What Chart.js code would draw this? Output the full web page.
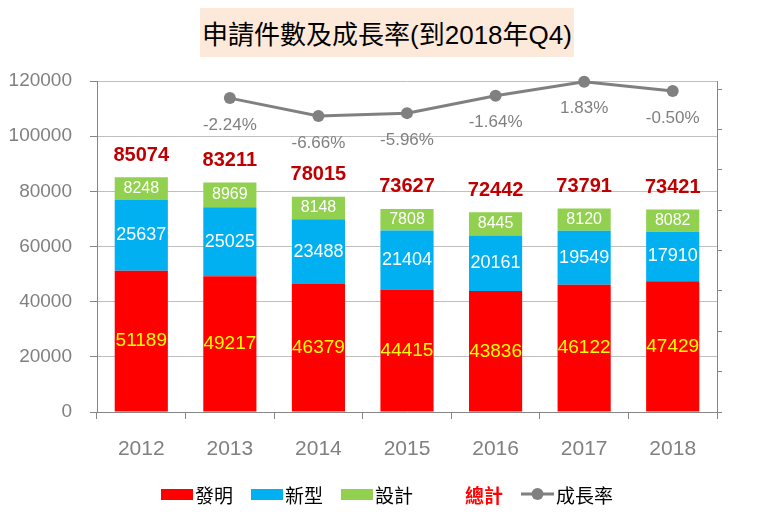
<!DOCTYPE html>
<html lang="zh-Hant">
<head>
<meta charset="UTF-8" />
<title>申請件數及成長率</title>
<script src="https://cdn.jsdelivr.net/npm/chart.js"></script>
<style>
  body { margin: 0; background: #fff; }
  .wrap { position: relative; width: 774px; height: 519px; }
  .titulo {
    position: absolute; left: 200px; top: 8px; width: 374px; height: 49px;
    background: #fde9d9; color: #000;
    font: 26px "Liberation Sans", "Noto Sans CJK TC", sans-serif;
    display: flex; align-items: center; justify-content: center;
  }
  .legenda {
    position: absolute; left: 161px; top: 479px; height: 30px;
    display: flex; align-items: center; gap: 18px;
    font: 19px "Liberation Sans", "Noto Sans CJK TC", sans-serif; color: #000;
  }
  .legenda span.item { display: flex; align-items: center; }
  .legenda .caixa { display: inline-block; width: 32px; height: 11px; margin-right: 2px; }
</style>
</head>
<body>
<div class="wrap">
  <canvas id="grafico"></canvas>
  <div class="titulo">申請件數及成長率(到2018年Q4)</div>
  <div class="legenda" id="legenda"></div>
</div>
<script>
  const anos = ['2012', '2013', '2014', '2015', '2016', '2017', '2018'];
  const invencao = [51189, 49217, 46379, 44415, 43836, 46122, 47429];
  const modelo = [25637, 25025, 23488, 21404, 20161, 19549, 17910];
  const desenho = [8248, 8969, 8148, 7808, 8445, 8120, 8082];
  const totais = [85074, 83211, 78015, 73627, 72442, 73791, 73421];
  const crescimento = [null, -2.24, -6.66, -5.96, -1.64, 1.83, -0.50];
  const ticksEsq = [0, 20000, 40000, 60000, 80000, 100000, 120000];

  const fonte = '"Liberation Sans", "Noto Sans CJK TC", sans-serif';
  const cinza = '#808080';

  // rótulos das barras, totais e percentuais
  const rotulos = {
    id: 'rotulos',
    afterDatasetsDraw(chart) {
      const ctx = chart.ctx;
      ctx.save();
      ctx.textAlign = 'center';
      ctx.textBaseline = 'middle';
      const cores = ['#ffff00', '#ffffff', '#ffffff'];
      const tamanhos = [19, 18, 16];
      for (let d = 0; d < 3; d++) {
        const meta = chart.getDatasetMeta(d);
        ctx.fillStyle = cores[d];
        ctx.font = tamanhos[d] + 'px ' + fonte;
        meta.data.forEach((bar, i) => {
          const v = chart.data.datasets[d].data[i];
          ctx.fillText(String(v), bar.x, (bar.y + bar.base) / 2);
        });
      }
      // totais
      const topo = chart.getDatasetMeta(2);
      ctx.fillStyle = '#c00000';
      ctx.font = 'bold 20px ' + fonte;
      topo.data.forEach((bar, i) => {
        ctx.fillText(String(totais[i]), bar.x, bar.y - 22);
      });
      // percentuais
      const linha = chart.getDatasetMeta(3);
      ctx.fillStyle = cinza;
      ctx.font = '17px ' + fonte;
      linha.data.forEach((pt, i) => {
        if (crescimento[i] === null) return;
        ctx.fillText(crescimento[i].toFixed(2) + '%', pt.x, pt.y + 27);
      });
      ctx.restore();
    }
  };

  const config = {
    type: 'bar',
    data: {
      labels: anos,
      datasets: [
        { label: '發明', data: invencao, backgroundColor: '#ff0000', stack: 's', order: 1, yAxisID: 'y' },
        { label: '新型', data: modelo, backgroundColor: '#00b0f0', stack: 's', order: 1, yAxisID: 'y' },
        { label: '設計', data: desenho, backgroundColor: '#92d050', stack: 's', order: 1, yAxisID: 'y' },
        {
          type: 'line', label: '成長率', data: crescimento, yAxisID: 'y2', order: 0,
          borderColor: cinza, backgroundColor: cinza, borderWidth: 3, clip: false,
          pointRadius: 6, pointHoverRadius: 6, pointBackgroundColor: cinza, pointBorderWidth: 0,
          spanGaps: false
        }
      ]
    },
    options: {
      responsive: true,
      maintainAspectRatio: false,
      animation: false,
      layout: { padding: { top: 81, right: 49, bottom: 0, left: 0 } },
      datasets: { bar: { categoryPercentage: 1, barPercentage: 0.6 } },
      plugins: { legend: { display: false }, title: { display: false }, tooltip: { enabled: false } },
      scales: {
        x: {
          stacked: true,
          grid: { offset: true, drawOnChartArea: false, tickLength: 7, color: '#868686' },
          border: { color: '#868686', width: 1 },
          ticks: { color: cinza, font: { family: fonte, size: 21 }, padding: 18 },
          afterFit(s) { s.height = 107; }
        },
        y: {
          stacked: true, min: 0, max: 120000,
          afterBuildTicks(s) { s.ticks = ticksEsq.map(v => ({ value: v })); },
          grid: { color: '#bfbfbf', tickColor: '#868686', tickLength: 7 },
          border: { color: '#868686', width: 1 },
          ticks: { color: cinza, font: { family: fonte, size: 19 }, padding: 18, callback: v => String(v) },
          afterFit(s) { s.width = 97; }
        },
        y2: {
          position: 'right', min: -80, max: 2,
          afterBuildTicks(s) {
            const t = [];
            for (let v = -80; v <= 0; v += 10) t.push({ value: v });
            s.ticks = t;
          },
          grid: { drawOnChartArea: false, color: '#868686', tickLength: 5 },
          border: { color: '#868686', width: 1 },
          ticks: { display: false },
          afterFit(s) { s.width = 8; }
        }
      }
    },
    plugins: [rotulos]
  };

  const grafico = new Chart(document.getElementById('grafico'), config);

  // legenda em HTML
  const legenda = document.getElementById('legenda');
  const itens = [
    { nome: grafico.data.datasets[0].label, cor: '#ff0000' },
    { nome: grafico.data.datasets[1].label, cor: '#00b0f0' },
    { nome: grafico.data.datasets[2].label, cor: '#92d050' },
    { nome: '總計', cor: 'transparent', texto: '#ff0000', negrito: true },
    { nome: grafico.data.datasets[3].label, linha: true }
  ];
  itens.forEach(it => {
    const el = document.createElement('span');
    el.className = 'item';
    if (it.linha) {
      el.innerHTML = '<svg width="33" height="14" style="margin-right:2px"><line x1="0" y1="7" x2="33" y2="7" stroke="#808080" stroke-width="3"/><circle cx="16.5" cy="7" r="6" fill="#808080"/></svg>';
    } else {
      el.innerHTML = '<span class="caixa" style="background:' + it.cor + '"></span>';
    }
    const t = document.createElement('span');
    t.textContent = it.nome;
    if (it.texto) t.style.color = it.texto;
    if (it.negrito) t.style.fontWeight = 'bold';
    el.appendChild(t);
    legenda.appendChild(el);
  });
</script>
</body>
</html>
